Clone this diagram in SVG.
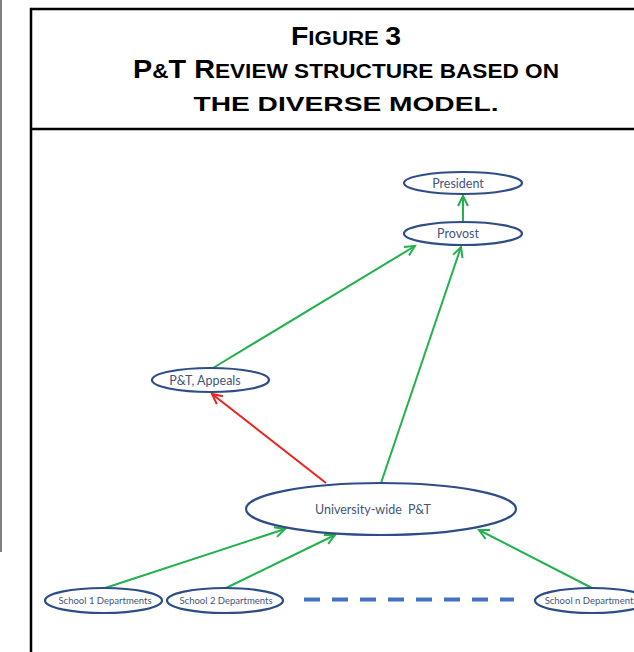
<svg xmlns="http://www.w3.org/2000/svg" width="634" height="652" viewBox="0 0 634 652">
<style>
.frame{fill:none;stroke:#000;stroke-width:2.5}
.title{font-family:"Liberation Sans",Arial,sans-serif;font-weight:bold;fill:#000;text-anchor:middle}
.big{font-size:25.5px}
.sc{font-size:20px}
.node ellipse{fill:#fff;stroke:#2E4C86;stroke-width:2.2}
.node text{font-family:Lato,"Liberation Sans",sans-serif;fill:#44557A;text-anchor:middle}
.lbl{font-size:12.5px}
.small{font-size:9.5px}
.g{stroke:#22B14C;stroke-width:2;fill:none}
.r{stroke:#F02020;stroke-width:2;fill:none}
</style>
<defs>
<marker id="ag" markerUnits="userSpaceOnUse" markerWidth="14" markerHeight="14" refX="11" refY="6" orient="auto" viewBox="0 0 14 12">
<polyline points="1,1 11,6 1,11" fill="none" stroke="#22B14C" stroke-width="2"/>
</marker>
<marker id="ar" markerUnits="userSpaceOnUse" markerWidth="14" markerHeight="14" refX="11" refY="6" orient="auto" viewBox="0 0 14 12">
<polyline points="1,1 11,6 1,11" fill="none" stroke="#F02020" stroke-width="2"/>
</marker>
</defs>
<rect width="634" height="652" fill="#fff"/>
<line x1="1" y1="0" x2="1" y2="552" stroke="#555" stroke-width="1.5"/>
<g id="frame">
<polyline class="frame" points="31,660 31,9 640,9"/>
<line class="frame" x1="31" y1="129" x2="640" y2="129"/>
</g>
<g id="title">
<text class="title" x="346" y="45" textLength="110" lengthAdjust="spacingAndGlyphs"><tspan class="big">F</tspan><tspan class="sc">IGURE </tspan><tspan class="big">3</tspan></text>
<text class="title" x="346" y="78" textLength="426" lengthAdjust="spacingAndGlyphs"><tspan class="big">P</tspan><tspan class="sc">&amp;</tspan><tspan class="big">T R</tspan><tspan class="sc">EVIEW STRUCTURE BASED ON</tspan></text>
<text class="title sc" x="346" y="111" textLength="305" lengthAdjust="spacingAndGlyphs">THE DIVERSE MODEL.</text>
</g>
<g id="connectors">
<line class="g" x1="463" y1="222" x2="463" y2="196" marker-end="url(#ag)"/>
<line class="g" x1="213" y1="368" x2="415" y2="246" marker-end="url(#ag)"/>
<line class="g" x1="381" y1="483" x2="461" y2="247" marker-end="url(#ag)"/>
<line class="r" x1="326" y1="483" x2="212" y2="394" marker-end="url(#ar)"/>
<line class="g" x1="105" y1="588" x2="285" y2="529" marker-end="url(#ag)"/>
<line class="g" x1="226" y1="588" x2="335" y2="535" marker-end="url(#ag)"/>
<line class="g" x1="592" y1="588" x2="479" y2="530" marker-end="url(#ag)"/>
<line x1="304" y1="599.5" x2="514" y2="599.5" stroke="#4472C4" stroke-width="4" stroke-dasharray="16 12"/>
</g>
<g id="president" class="node"><ellipse cx="463" cy="183" rx="59" ry="11"/><text class="lbl" x="458" y="187.5">President</text></g>
<g id="provost" class="node"><ellipse cx="463" cy="233.5" rx="59" ry="11.5"/><text class="lbl" x="458" y="238">Provost</text></g>
<g id="appeals" class="node"><ellipse cx="210.5" cy="380" rx="58.5" ry="12"/><text class="lbl" x="205" y="384.5">P&amp;T, Appeals</text></g>
<g id="university" class="node"><ellipse cx="381" cy="509" rx="135" ry="26"/><text class="lbl" x="373" y="513.5" word-spacing="3">University-wide P&amp;T</text></g>
<g id="school1" class="node"><ellipse cx="103.5" cy="600.5" rx="58.5" ry="12.5"/><text class="small" x="105" y="604">School 1 Departments</text></g>
<g id="school2" class="node"><ellipse cx="225" cy="600.5" rx="58" ry="12.5"/><text class="small" x="226" y="604">School 2 Departments</text></g>
<g id="schooln" class="node"><ellipse cx="592" cy="600.5" rx="57" ry="12.5"/><text class="small" x="589" y="604">School n Department</text></g>
</svg>
